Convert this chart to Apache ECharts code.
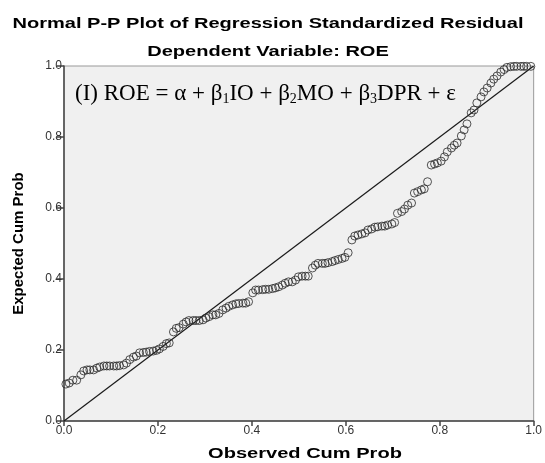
<!DOCTYPE html>
<html>
<head>
<meta charset="utf-8">
<script src="https://cdn.jsdelivr.net/npm/echarts@6/dist/echarts.min.js"></script>
<style>
  html, body { margin: 0; padding: 0; background: #fff; }
  #chart { width: 545px; height: 463px; }
</style>
</head>
<body>
<div id="chart"></div>
<script>
// observed cumulative probability (x) of each residual
const observedCumProb = [
  0.004, 0.011, 0.019, 0.027, 0.036, 0.042, 0.049, 0.055, 0.063, 0.070,
  0.076, 0.085, 0.091, 0.097, 0.106, 0.112, 0.118, 0.127, 0.133, 0.140,
  0.148, 0.154, 0.161, 0.169, 0.175, 0.182, 0.190, 0.197, 0.203, 0.211,
  0.218, 0.224, 0.233, 0.239, 0.245, 0.254, 0.260, 0.266, 0.275, 0.281,
  0.288, 0.296, 0.302, 0.309, 0.317, 0.323, 0.330, 0.338, 0.345, 0.351,
  0.359, 0.366, 0.372, 0.381, 0.387, 0.393, 0.402, 0.408, 0.414, 0.423,
  0.429, 0.436, 0.444, 0.450, 0.457, 0.465, 0.471, 0.478, 0.486, 0.493,
  0.499, 0.507, 0.514, 0.520, 0.529, 0.535, 0.541, 0.550, 0.556, 0.562,
  0.571, 0.577, 0.584, 0.592, 0.598, 0.605, 0.613, 0.619, 0.626, 0.634,
  0.641, 0.647, 0.655, 0.662, 0.668, 0.677, 0.683, 0.689, 0.698, 0.704,
  0.710, 0.719, 0.725, 0.732, 0.740, 0.746, 0.753, 0.761, 0.767, 0.774,
  0.782, 0.789, 0.795, 0.803, 0.810, 0.816, 0.825, 0.831, 0.837, 0.846,
  0.852, 0.858, 0.867, 0.873, 0.879, 0.888, 0.894, 0.901, 0.909, 0.915,
  0.922, 0.930, 0.937, 0.943, 0.951, 0.958, 0.964, 0.973, 0.979, 0.985,
  0.994
]
// expected cumulative probability (y)
const expectedCumProb = [
  0.104, 0.107, 0.115, 0.115, 0.130, 0.141, 0.144, 0.144, 0.144, 0.149,
  0.152, 0.155, 0.155, 0.155, 0.155, 0.155, 0.156, 0.158, 0.163, 0.173,
  0.180, 0.183, 0.192, 0.193, 0.194, 0.196, 0.197, 0.199, 0.203, 0.210,
  0.218, 0.220, 0.251, 0.261, 0.263, 0.273, 0.279, 0.283, 0.283, 0.283,
  0.283, 0.285, 0.290, 0.294, 0.299, 0.299, 0.303, 0.313, 0.318, 0.323,
  0.327, 0.330, 0.331, 0.332, 0.332, 0.336, 0.361, 0.369, 0.369, 0.370,
  0.371, 0.371, 0.373, 0.375, 0.378, 0.383, 0.388, 0.392, 0.392, 0.397,
  0.406, 0.408, 0.408, 0.408, 0.431, 0.439, 0.444, 0.444, 0.444, 0.446,
  0.449, 0.452, 0.455, 0.458, 0.461, 0.474, 0.510, 0.521, 0.524, 0.527,
  0.530, 0.538, 0.541, 0.546, 0.547, 0.549, 0.549, 0.552, 0.555, 0.559,
  0.585, 0.590, 0.597, 0.608, 0.614, 0.642, 0.646, 0.651, 0.654, 0.674,
  0.721, 0.724, 0.727, 0.732, 0.744, 0.758, 0.769, 0.777, 0.783, 0.803,
  0.820, 0.837, 0.868, 0.876, 0.896, 0.913, 0.927, 0.938, 0.952, 0.963,
  0.972, 0.983, 0.990, 0.996, 0.998, 0.999, 0.999, 0.999, 0.999, 0.999,
  0.999
]
const tickValues = [0, 0.2, 0.4, 0.6, 0.8, 1.0]
const diagonalLine = [[0, 0], [1, 1]]

const points = observedCumProb.map((x, i) => [x, expectedCumProb[i]])

const chart = echarts.init(document.getElementById('chart'))

// the original picture is stretched sideways, so wide texts get a scaleX
const stretch = 1.336
const boldText = (text, x, y) => ({
  type: 'text',
  x: x,
  y: y,
  scaleX: stretch,
  style: {
    text: text,
    fontFamily: 'Liberation Sans',
    fontWeight: 'bold',
    fontSize: 15,
    fill: '#000',
    align: 'center',
    verticalAlign: 'middle'
  }
})

const tickLabel = margin => ({
  color: '#333',
  fontSize: 12,
  fontFamily: 'Liberation Sans',
  margin: margin,
  formatter: v => tickValues.includes(v) ? v.toFixed(1) : ''
})

const option = {
  animation: false,
  backgroundColor: '#fff',
  grid: {
    left: 64,
    right: 8,
    top: 66,
    bottom: 42,
    show: true,
    backgroundColor: '#f0f0f0',
    borderColor: '#999',
    borderWidth: 1
  },
  xAxis: {
    type: 'value',
    min: 0,
    max: 1,
    interval: 0.2,
    axisLine: { lineStyle: { color: '#444', width: 1.5 } },
    axisTick: { length: 5, lineStyle: { color: '#444', width: 1.5 } },
    axisLabel: tickLabel(4),
    splitLine: { show: false }
  },
  yAxis: {
    type: 'value',
    min: 0,
    max: 1,
    interval: 0.2,
    name: 'Expected Cum Prob',
    nameLocation: 'middle',
    nameGap: 38,
    nameTextStyle: { fontFamily: 'Liberation Sans', fontWeight: 'bold', fontSize: 15, color: '#000' },
    axisLine: { lineStyle: { color: '#444', width: 1.5 } },
    axisTick: { length: 7, lineStyle: { color: '#444', width: 1.5 } },
    axisLabel: tickLabel(2),
    splitLine: { show: false }
  },
  graphic: [
    boldText('Normal P-P Plot of Regression Standardized Residual', 268, 24),
    boldText('Dependent Variable: ROE', 268, 52),
    boldText('Observed Cum Prob', 305, 454),
    {
      type: 'text',
      left: 75,
      top: 82,
      z: 10,
      style: {
        text: '{m|(I) ROE = α + β}{s|1}{m|IO + β}{s|2}{m|MO + β}{s|3}{m|DPR + ε}',
        rich: {
          m: { fontFamily: 'Liberation Serif', fontSize: 23, fill: '#000', lineHeight: 26 },
          s: { fontFamily: 'Liberation Serif', fontSize: 14, fill: '#000', verticalAlign: 'bottom', lineHeight: 26, padding: [6, 0, 0, 0] }
        }
      }
    }
  ],
  series: [
    {
      type: 'line',
      data: diagonalLine,
      symbol: 'none',
      silent: true,
      lineStyle: { color: '#1a1a1a', width: 1.2 },
      z: 2
    },
    {
      type: 'scatter',
      data: points,
      symbol: 'circle',
      symbolSize: 8,
      itemStyle: {
        color: 'rgba(0,0,0,0)',
        borderColor: '#2a2a2a',
        borderWidth: 1
      },
      z: 3
    }
  ]
}

chart.setOption(option)
</script>
</body>
</html>
